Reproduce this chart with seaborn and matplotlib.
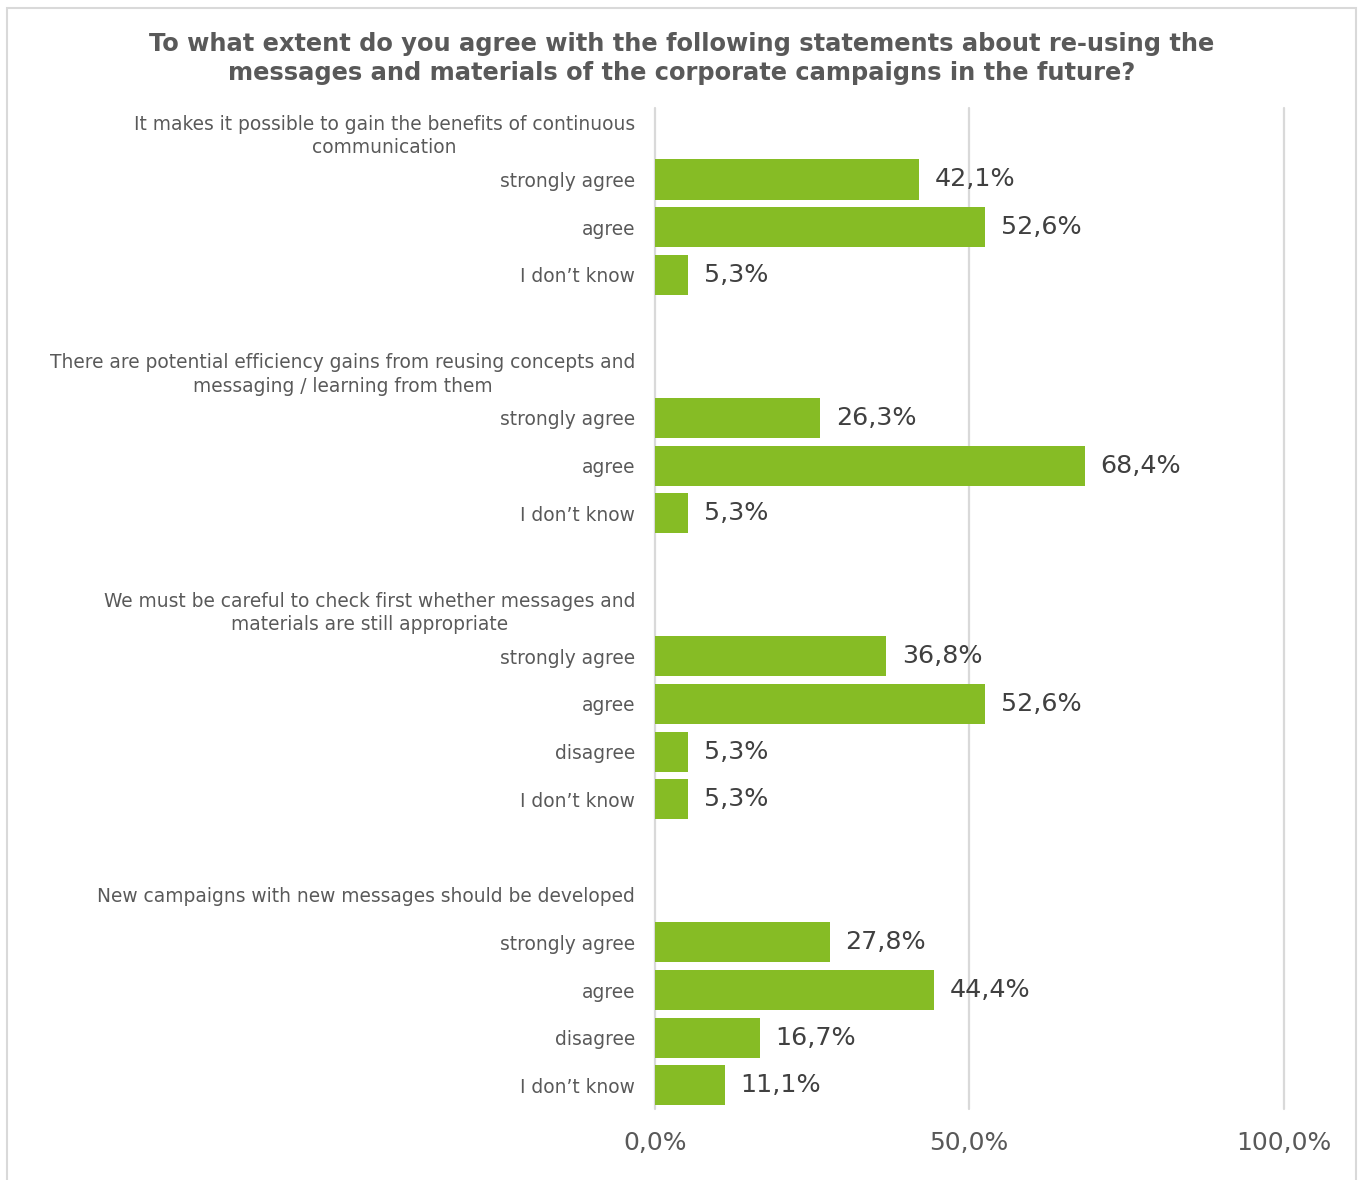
import pandas as pd
import matplotlib.pyplot as plt
import matplotlib.patches as mpatches
import seaborn as sns

# row labels in order from top to bottom ('' = spacer row)
labels = [
    "It makes it possible to gain the benefits of continuous\ncommunication",
    "strongly agree", "agree", "I don\u2019t know", "",
    "There are potential efficiency gains from reusing concepts and\nmessaging / learning from them",
    "strongly agree", "agree", "I don\u2019t know", "",
    "We must be careful to check first whether messages and\nmaterials are still appropriate",
    "strongly agree", "agree", "disagree", "I don\u2019t know", "",
    "New campaigns with new messages should be developed",
    "strongly agree", "agree", "disagree", "I don\u2019t know",
]
values = [
    None, 42.1, 52.6, 5.3, None,
    None, 26.3, 68.4, 5.3, None,
    None, 36.8, 52.6, 5.3, 5.3, None,
    None, 27.8, 44.4, 16.7, 11.1,
]
xticks = [0, 50, 100]

GREEN = "#86BC25"
GREY = "#595959"

df = pd.DataFrame({"row": [f"r{i}" for i in range(len(labels))],
                   "pct": values})

sns.set_theme(style="white")
plt.rcParams["font.family"] = ["DejaVu Sans"]

fig = plt.figure(figsize=(13.64, 11.8), dpi=100)
ax = fig.add_axes([0.480, 0.060, 0.461, 0.8485])

sns.barplot(data=df, y="row", x="pct", color=GREEN, saturation=1,
            width=0.84, ax=ax, orient="h", linewidth=0)

ax.set_xlim(0, 100)
ax.set_ylim(len(labels) - 0.5, -0.5)
ax.set_xticks(xticks)
ax.set_xticklabels([f"{t:.1f}%".replace(".", ",") for t in xticks],
                   fontsize=18, color=GREY)
ax.tick_params(axis="x", length=0, pad=16)
ax.set_yticks(range(len(labels)))
ax.set_yticklabels(labels, fontsize=13.45, color=GREY,
                   multialignment="center", linespacing=1.3)
ax.tick_params(axis="y", length=0, pad=14)
ax.set_xlabel("")
ax.set_ylabel("")
for t in xticks:
    ax.axvline(t, color="#D9D9D9", lw=1.6, zorder=0, clip_on=False)
for s in ax.spines.values():
    s.set_visible(False)

for i, v in enumerate(values):
    if v is not None:
        ax.text(v + 2.5, i, f"{v:.1f}%".replace(".", ","), va="center",
                ha="left", fontsize=18.3, color="#404040")

fig.suptitle("To what extent do you agree with the following statements about re-using the\n"
             "messages and materials of the corporate campaigns in the future?",
             y=0.973, fontsize=17.4, fontweight="bold", color=GREY, linespacing=1.25)

fig.patches.append(mpatches.Rectangle((0.005, -0.01), 0.989, 1.003,
                                      transform=fig.transFigure, fill=False,
                                      edgecolor="#D9D9D9", lw=1.5))

fig.savefig("out.png", dpi=100)
